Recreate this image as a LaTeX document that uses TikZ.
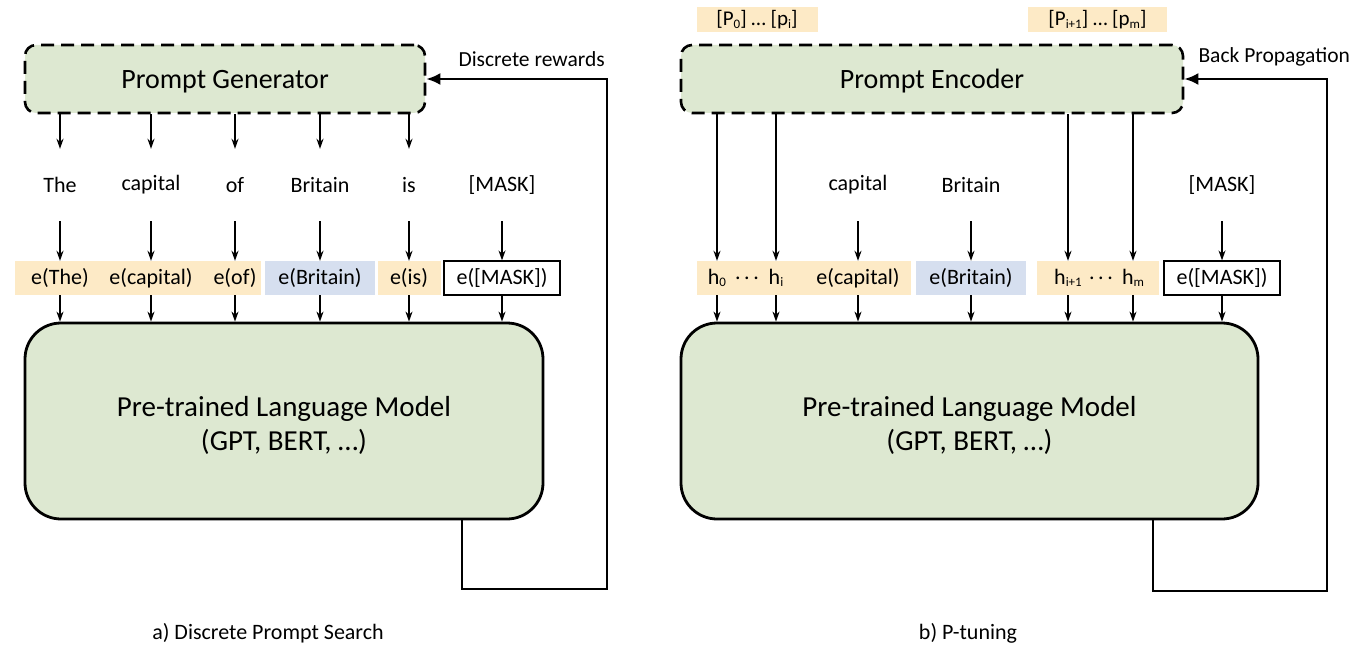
\documentclass[tikz,border=0pt]{standalone}
\usepackage{fontspec}
\setmainfont{Carlito}
\usetikzlibrary{arrows.meta}
\definecolor{gfill}{HTML}{DDE8D1}
\definecolor{ofill}{HTML}{FDEAC6}
\definecolor{bfill}{HTML}{D6DFEF}
\newcommand\subx[1]{\raisebox{-0.25ex}{\fontsize{13}{13}\selectfont #1}}
\newcommand\dotsx{.\hspace{3.5pt}.\hspace{3.5pt}.}
\begin{document}
\begin{tikzpicture}[x=1pt,y=-1pt,
  gen/.style={draw, line width=2.6pt, dash pattern=on 13pt off 7pt, rounded corners=11pt, fill=gfill, minimum height=68pt, inner sep=0pt, text depth=0pt, font=\fontsize{28}{32}\selectfont},
  lmodel/.style={draw, line width=2.8pt, rounded corners=36pt, fill=gfill, align=center, inner sep=0pt, minimum height=196pt, font=\fontsize{29}{34}\selectfont},
  word/.style={minimum height=72pt, inner sep=0pt, font=\fontsize{22}{24}\selectfont},
  tok/.style={minimum height=34pt, inner sep=0pt, font=\fontsize{22}{24}\selectfont},
  obg/.style={fill=ofill, minimum height=34pt, inner sep=0pt},
  bbg/.style={fill=bfill, minimum height=34pt, inner sep=0pt},
  mbox/.style={draw, line width=1.2pt, fill=white, minimum height=34pt, inner sep=0pt, font=\fontsize{22}{24}\selectfont},
  arr/.style={-{Stealth[length=10pt,width=7pt]}, line width=1.4pt},
  fbk/.style={-{Latex[length=14pt,width=12pt]}, line width=2.6pt},
  lbl/.style={font=\fontsize{21.5}{24}\selectfont},
  captxt/.style={font=\fontsize{22}{24}\selectfont}]
\useasboundingbox (0,0) rectangle (1354,650);

% ---------------- left panel ----------------
\node[gen, minimum width=400pt] (pg) at (225,79) {Prompt Generator};
\node[lbl, anchor=west] (dr) at (455,59) {Discrete rewards};

\node[word] (w1) at (60,185) {The};
\node[word] (w2) at (151,185) {capital};
\node[word] (w3) at (235,185) {of};
\node[word] (w4) at (320,185) {Britain};
\node[word] (w5) at (409,185) {is};
\node[word] (w6) at (502,185) {[MASK]};

\node[obg, minimum width=246pt] (g1) at (138,278) {};
\node[bbg, minimum width=110pt] (g2) at (320,278) {};
\node[obg, minimum width=63pt] (g3) at (409.5,278) {};
\node[tok] (t1) at (60,278) {e(The)};
\node[tok] (t2) at (151,278) {e(capital)};
\node[tok] (t3) at (235,278) {e(of)};
\node[tok] (t4) at (320,278) {e(Britain)};
\node[tok] (t5) at (409,278) {e(is)};
\node[mbox, minimum width=116pt] (t6) at (502,278) {e([MASK])};

\node[lmodel, minimum width=518pt] (lm) at (284,421) {};
\node[font=\fontsize{29}{34}\selectfont, align=center] (lmt) at (284,425) {Pre-trained Language Model\\(GPT, BERT, …)};

\foreach \i in {1,...,5} {\draw[arr] (pg.south -| w\i) -- (w\i.north);}
\foreach \i in {1,...,6} {\draw[arr] (w\i.south) -- (t\i.north);}
\foreach \i in {1,...,6} {\draw[arr] (t\i.south) -- (t\i.south |- lm.north);}

\coordinate (fa1) at (462,589);
\coordinate (fa2) at (607,589);
\draw[fbk] (lm.south -| fa1) -- (fa1) -- (fa2) -- (fa2 |- pg.east) -- (pg.east);

\node[captxt] (ca) at (268,633) {a) Discrete Prompt Search};

% ---------------- right panel ----------------
\node[obg, minimum width=121pt, minimum height=25pt, font=\fontsize{21}{24}\selectfont] (pl1) at (757,20) {[P\subx{0}] … [p\subx{i}]};
\node[obg, minimum width=139pt, minimum height=25pt, font=\fontsize{21}{24}\selectfont] (pl2) at (1097.5,20) {[P\subx{i+1}] … [p\subx{m}]};

\node[gen, minimum width=502pt] (pe) at (932,79) {Prompt Encoder};
\node[lbl, anchor=west] (bp) at (1195,57) {Back Propagation};

\node[word] (v3) at (858,185) {capital};
\node[word] (v4) at (971,185) {Britain};
\node[word] (v7) at (1222,185) {[MASK]};

\node[obg, minimum width=214pt] (q1) at (804,278) {};
\node[bbg, minimum width=110pt] (q2) at (971,278) {};
\node[obg, minimum width=122pt] (q3) at (1098,278) {};
\node[tok] (s1) at (717,278) {h\subx{0}};
\node[tok] (d1) at (747,278) {\dotsx};
\node[tok] (s2) at (776,278) {h\subx{i}};
\node[tok] (s3) at (858,278) {e(capital)};
\node[tok] (s4) at (971,278) {e(Britain)};
\node[tok] (s5) at (1068,278) {h\subx{i+1}};
\node[tok] (d2) at (1101,278) {\dotsx};
\node[tok] (s6) at (1133,278) {h\subx{m}};
\node[mbox, minimum width=116pt] (s7) at (1222,278) {e([MASK])};

\node[lmodel, minimum width=577pt] (rm) at (969.5,421) {};
\node[font=\fontsize{29}{34}\selectfont, align=center] (rmt) at (969.5,425) {Pre-trained Language Model\\(GPT, BERT, …)};

\foreach \i in {1,2,5,6} {\draw[arr] (pe.south -| s\i) -- (s\i.north);}
\draw[arr] (v3.south) -- (s3.north);
\draw[arr] (v4.south) -- (s4.north);
\draw[arr] (v7.south) -- (s7.north);
\foreach \i in {1,...,7} {\draw[arr] (s\i.south) -- (s\i.south |- rm.north);}

\coordinate (fb1) at (1153,591);
\coordinate (fb2) at (1327,591);
\draw[fbk] (rm.south -| fb1) -- (fb1) -- (fb2) -- (fb2 |- pe.east) -- (pe.east);

\node[captxt] (cb) at (968,633) {b) P-tuning};
\end{tikzpicture}
\end{document}
